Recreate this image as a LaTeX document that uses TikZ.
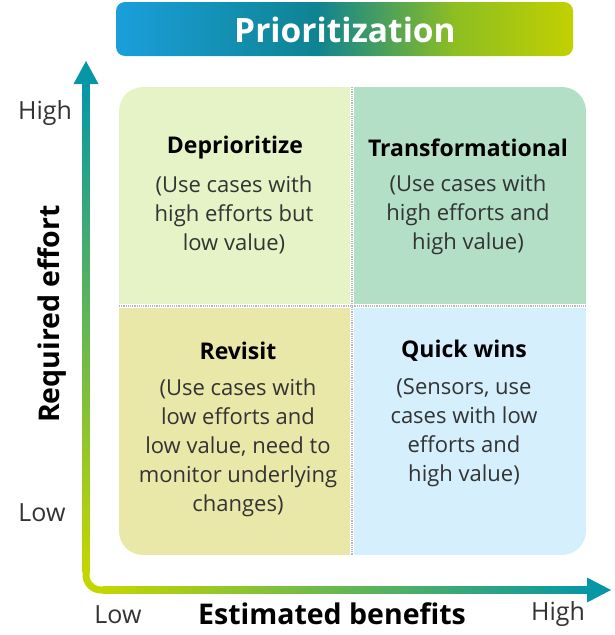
\documentclass[tikz,border=0pt]{standalone}
\usepackage{fontspec}
\setmainfont{Open Sans}
\usetikzlibrary{positioning}

\definecolor{tblue}{HTML}{1A9FDB}
\definecolor{tteal}{HTML}{0E8391}
\definecolor{tgreen}{HTML}{8DBE22}
\definecolor{tlime}{HTML}{C2D000}
\definecolor{axlime}{HTML}{C4D600}
\definecolor{axgreen}{HTML}{00A04B}
\definecolor{axteal}{HTML}{0597A6}
\definecolor{tlquad}{HTML}{E5F3C7}
\definecolor{trquad}{HTML}{B2DFC5}
\definecolor{blquad}{HTML}{EAE8A9}
\definecolor{brquad}{HTML}{D5EFFC}
\definecolor{bodygrey}{HTML}{333333}
\definecolor{gridgrey}{HTML}{B8B8B8}

\pgfdeclarehorizontalshading{titlegrad}{100bp}{color(0bp)=(tblue); color(25bp)=(tblue); color(47bp)=(tteal); color(62bp)=(tgreen); color(75bp)=(tlime); color(100bp)=(tlime)}

\begin{document}
\begin{tikzpicture}[x=1pt,y=-1pt,
    quadtitle/.style={font=\bfseries\fontsize{23}{27}\selectfont, text=black},
    quadbody/.style={font=\fontsize{22}{29}\selectfont, text=bodygrey, align=center},
    axislabel/.style={font=\fontsize{25}{30}\selectfont, text=bodygrey},
    axistitle/.style={font=\bfseries\fontsize{28.5}{32}\selectfont, text=black}
]
    \useasboundingbox (0,0) rectangle (615,635);
    % Title bar
    \shade[shading=titlegrad, rounded corners=9pt] (116,2) rectangle (573,56);
    \node[text=white, font=\bfseries\fontsize{33.5}{38}\selectfont] (title) at (345,30) {Prioritization};
    % Quadrants
    \begin{scope}
        \clip[rounded corners=24pt] (119,87) rectangle (586,555);
        \fill[tlquad] (119,87)  rectangle (352,306);
        \fill[trquad] (352,87)  rectangle (586,306);
        \fill[blquad] (119,306) rectangle (352,555);
        \fill[brquad] (352,306) rectangle (586,555);
    \end{scope}
    % Dividers
    \draw[white, line width=4pt] (352,87) -- (352,555);
    \draw[white, line width=4pt] (119,306) -- (586,306);
    \draw[gridgrey, densely dotted, line width=1.2pt] (352,87) -- (352,555);
    \draw[gridgrey, densely dotted, line width=1.2pt] (119,306) -- (586,306);
    % Axes
    \coordinate (ytip)   at (86,61);
    \coordinate (origin) at (86,590);
    \coordinate (xtip)   at (611,590);
    \draw[axlime, line width=7pt, rounded corners=15pt] (86,560) |- (120,590);
    \shade[top color=axteal, middle color=axgreen, bottom color=axlime] (82.5,83) rectangle (89.5,572);
    \shade[left color=axlime, middle color=axgreen, right color=axteal] (103,586.5) rectangle (589,593.5);
    \fill[axteal] (ytip) -- (73.5,84) -- (98.5,84) -- cycle;
    \fill[axteal] (xtip) -- (587,577.5) -- (587,602.5) -- cycle;
    % Axis labels
    \node[axislabel] (yhigh) at (45,113) {High};
    \node[axislabel] (ylow)  at (42,513) {Low};
    \node[axistitle, rotate=90] (ytitle) at (52,314) {Required effort};
    \node[axislabel] (xlow)  at (118,615) {Low};
    \node[axistitle] (xtitle) at (332,614) {Estimated benefits};
    \node[axislabel] (xhigh) at (558,614) {High};
    % Quadrant texts
    \node[quadtitle] (deprio) at (235,148) {Deprioritize};
    \node[quadbody]  (depriotext) at (234,215) {(Use cases with\\high efforts but\\low value)};
    \node[quadtitle] (transf) at (468,148) {Transformational};
    \node[quadbody]  (transftext) at (468,215) {(Use cases with\\high efforts and\\high value)};
    \node[quadtitle] (revisit) at (238,351) {Revisit};
    \node[quadbody]  (revisittext) at (238,447.5) {(Use cases with\\low efforts and\\low value, need to\\monitor underlying\\changes)};
    \node[quadtitle] (quick) at (464,351) {Quick wins};
    \node[quadbody]  (quicktext) at (464,433) {(Sensors, use\\cases with low\\efforts and\\high value)};
\end{tikzpicture}
\end{document}
